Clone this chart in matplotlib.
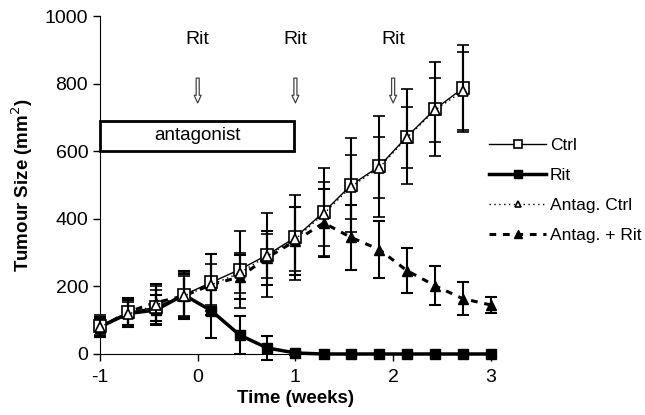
import numpy as np
import matplotlib
matplotlib.use("Agg")
import matplotlib.pyplot as plt
from matplotlib.patches import Rectangle

plt.rcParams['font.family'] = ['Liberation Sans', 'DejaVu Sans']
plt.rcParams['axes.unicode_minus'] = False

# time points (weeks), every 2 days
weeks = [-1.0, -0.71, -0.43, -0.14, 0.14, 0.43, 0.71, 1.0, 1.29, 1.57, 1.86, 2.14, 2.43, 2.71, 3.0]

ctrl = [84, 123, 138, 175, 212, 250, 293, 345, 420, 500, 556, 643, 725, 786]
ctrl_err = [30, 40, 50, 65, 85, 115, 125, 125, 130, 140, 150, 140, 140, 130]

rit = [80, 120, 130, 175, 128, 56, 18, 3, 0, 0, 0, 0, 0, 0, 0]
rit_err = [30, 40, 45, 70, 82, 55, 35, 5, 0, 0, 0, 0, 0, 0, 0]

antag_ctrl = [80, 118, 145, 172, 205, 240, 290, 340, 415, 495, 552, 640, 722, 778]
antag_ctrl_err = [25, 35, 55, 60, 60, 60, 65, 95, 95, 95, 90, 90, 95, 115]

antag_rit = [78, 125, 152, 172, 205, 228, 285, 335, 388, 345, 309, 247, 202, 164, 145]
antag_rit_err = [28, 40, 55, 65, 90, 65, 80, 100, 100, 95, 85, 66, 58, 48, 25]

rit_days = [0, 1, 2]  # weeks when Rit was given
antag_span = (-1, 1)

fig = plt.figure(figsize=(6.45, 4.15), dpi=100)
ax = fig.add_axes([0.155, 0.147, 0.606, 0.814])

eb = dict(ecolor='black', elinewidth=1.5, capsize=4.5, capthick=1.5, clip_on=False)

ax.errorbar(weeks[:len(antag_rit)], antag_rit, yerr=antag_rit_err, color='black', lw=2.2,
            ls=(0, (2.2, 2.2)), marker='^', ms=7.5, mfc='black', mec='black',
            label='Antag. + Rit', zorder=3, **eb)
ax.errorbar(weeks[:len(antag_ctrl)], antag_ctrl, yerr=antag_ctrl_err, color='black', lw=1.0,
            ls=(0, (1, 2.5)), marker='^', ms=6.5, mfc='white', mec='black', mew=1.2,
            label='Antag. Ctrl', zorder=4, **eb)
ax.errorbar(weeks[:len(rit)], rit, yerr=rit_err, color='black', lw=2.5, ls='-',
            marker='s', ms=7.5, mfc='black', mec='black', label='Rit', zorder=3, **eb)
ax.errorbar(weeks[:len(ctrl)], ctrl, yerr=ctrl_err, color='black', lw=1.0, ls='-',
            marker='s', ms=8, mfc='white', mec='black', mew=1.2, label='Ctrl', zorder=3, **eb)

ax.set_xlim(-1, 3)
ax.set_ylim(0, 1000)
ax.set_xticks([-1, 0, 1, 2, 3])
ax.set_yticks(range(0, 1001, 200))
ax.spines['top'].set_visible(False)
ax.spines['right'].set_visible(False)
ax.tick_params(labelsize=14, length=5, width=1, direction='out')
ax.tick_params(axis='x', pad=6)
ax.set_xlabel('Time (weeks)', fontsize=13.5, fontweight='bold', labelpad=3)
ax.set_ylabel('Tumour Size (mm$^2$)', fontsize=13.5, fontweight='bold', labelpad=7)

# antagonist period box
ax.add_patch(Rectangle((antag_span[0], 602), antag_span[1] - antag_span[0] - 0.01, 88,
                       fill=False, ec='black', lw=2, clip_on=False, zorder=5))
ax.text(sum(antag_span) / 2, 646, 'antagonist', ha='center', va='center', fontsize=13.5)

# Rit arrows
for d in rit_days:
    ax.annotate('', xy=(d, 735), xytext=(d, 825),
                arrowprops=dict(arrowstyle='simple,head_width=0.5,head_length=0.55,tail_width=0.22',
                                fc='white', ec='#444444', lw=0.9))
    ax.text(d, 932, 'Rit', ha='center', va='center', fontsize=14)

handles, labels = ax.get_legend_handles_labels()
order = [3, 2, 1, 0]
leg = ax.legend([handles[i][0] for i in order], [labels[i] for i in order],
                loc='upper left', bbox_to_anchor=(0.995, 0.64), frameon=False,
                fontsize=12.5, handlelength=3.3, handletextpad=0.2, borderpad=0,
                borderaxespad=0, labelspacing=0.85, markerscale=0.75)

fig.savefig('out.png', dpi=100)
